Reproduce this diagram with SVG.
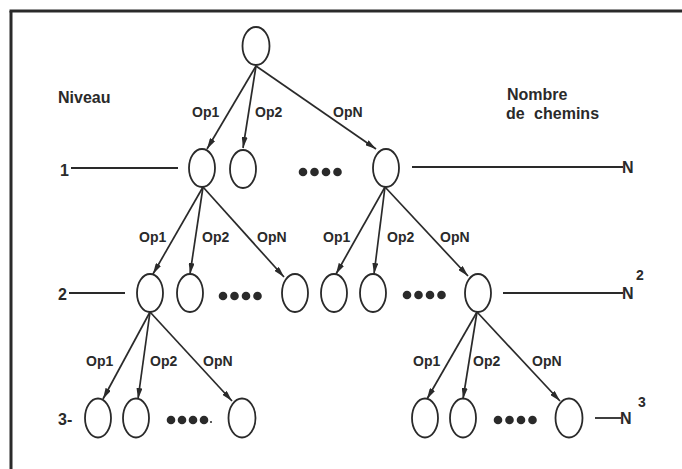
<svg xmlns="http://www.w3.org/2000/svg" width="682" height="469" viewBox="0 0 682 469">
<defs>
<style>
.n{fill:none;stroke:#2a2a2a;stroke-width:1.8}
.e{stroke:#2a2a2a;stroke-width:1.7;fill:none;marker-end:url(#ah)}
.l{stroke:#2a2a2a;stroke-width:1.8}
.t{font-family:"Liberation Sans",Arial,sans-serif;font-weight:bold;fill:#2a2a2a}
.op{font-size:14px}
.big{font-size:16px}
.sup{font-size:14px}
.d{fill:#2a2a2a}
</style>
<marker id="ah" viewBox="0 0 11 6" refX="11" refY="3" markerWidth="11" markerHeight="6" markerUnits="userSpaceOnUse" orient="auto">
<path d="M0,0 L11,3 L0,6 z" fill="#2a2a2a"/>
</marker>
</defs>
<rect width="682" height="469" fill="#ffffff"/>
<g id="frame">
<line x1="9.5" y1="11" x2="682" y2="11" stroke="#2a2a2a" stroke-width="3"/>
<line x1="11" y1="11" x2="11" y2="469" stroke="#2a2a2a" stroke-width="3"/>
</g>
<g id="titles" class="t big">
<text x="58" y="103">Niveau</text>
<text x="507" y="100">Nombre</text>
<text x="506" y="119" word-spacing="5">de chemins</text>
</g>
<g id="connectors">
<line class="e" x1="256" y1="66" x2="207" y2="149"/>
<line class="e" x1="256" y1="66" x2="243" y2="148"/>
<line class="e" x1="256" y1="66" x2="376" y2="149"/>
<line class="e" x1="203" y1="187" x2="153" y2="274"/>
<line class="e" x1="203" y1="187" x2="190" y2="274"/>
<line class="e" x1="203" y1="187" x2="284" y2="277"/>
<line class="e" x1="385" y1="187" x2="336" y2="274"/>
<line class="e" x1="385" y1="187" x2="374" y2="274"/>
<line class="e" x1="385" y1="187" x2="468" y2="276"/>
<line class="e" x1="150" y1="312" x2="103" y2="399"/>
<line class="e" x1="150" y1="312" x2="138" y2="399"/>
<line class="e" x1="150" y1="312" x2="232" y2="401"/>
<line class="e" x1="477" y1="312" x2="427" y2="399"/>
<line class="e" x1="477" y1="312" x2="463" y2="399"/>
<line class="e" x1="477" y1="312" x2="560" y2="401"/>
</g>
<g id="op-labels" class="t op">
<text x="192" y="117">Op1</text><text x="255" y="117">Op2</text><text x="333" y="117">OpN</text>
<text x="139" y="242">Op1</text><text x="202" y="242">Op2</text><text x="257" y="242">OpN</text>
<text x="323" y="242">Op1</text><text x="387" y="242">Op2</text><text x="440" y="242">OpN</text>
<text x="86" y="366">Op1</text><text x="150" y="366">Op2</text><text x="203" y="366">OpN</text>
<text x="413" y="366">Op1</text><text x="473" y="366">Op2</text><text x="532" y="366">OpN</text>
</g>
<g id="root"><ellipse class="n" cx="256" cy="46" rx="13.5" ry="19"/></g>
<g id="n1a"><ellipse class="n" cx="202" cy="168" rx="13" ry="19"/></g>
<g id="n1b"><ellipse class="n" cx="243" cy="169" rx="13" ry="19"/></g>
<g id="n1c"><ellipse class="n" cx="386" cy="168" rx="13" ry="19"/></g>
<g id="n2a"><ellipse class="n" cx="150" cy="293" rx="13" ry="19"/></g>
<g id="n2b"><ellipse class="n" cx="190" cy="293" rx="13" ry="19"/></g>
<g id="n2c"><ellipse class="n" cx="295" cy="293" rx="13" ry="19"/></g>
<g id="n2d"><ellipse class="n" cx="334" cy="293" rx="13" ry="19"/></g>
<g id="n2e"><ellipse class="n" cx="373" cy="293" rx="13" ry="19"/></g>
<g id="n2f"><ellipse class="n" cx="478" cy="293" rx="13" ry="19"/></g>
<g id="n3a"><ellipse class="n" cx="98" cy="418" rx="13" ry="19.5"/></g>
<g id="n3b"><ellipse class="n" cx="136" cy="418" rx="13" ry="19.5"/></g>
<g id="n3c"><ellipse class="n" cx="242" cy="418" rx="13.5" ry="19.5"/></g>
<g id="n3d"><ellipse class="n" cx="425" cy="418" rx="13" ry="19.5"/></g>
<g id="n3e"><ellipse class="n" cx="463" cy="418" rx="13" ry="19.5"/></g>
<g id="n3f"><ellipse class="n" cx="569" cy="418" rx="13.5" ry="19.5"/></g>
<g id="ellipsis-dots" class="d">
<circle cx="303" cy="172" r="4.3"/><circle cx="314.5" cy="172" r="4.3"/><circle cx="326" cy="172" r="4.3"/><circle cx="337.5" cy="172" r="4.3"/>
<circle cx="223" cy="296" r="4.3"/><circle cx="234.5" cy="296" r="4.3"/><circle cx="246" cy="296" r="4.3"/><circle cx="257.5" cy="296" r="4.3"/>
<circle cx="407" cy="295" r="4.3"/><circle cx="418.5" cy="295" r="4.3"/><circle cx="430" cy="295" r="4.3"/><circle cx="441.5" cy="295" r="4.3"/>
<circle cx="171" cy="420" r="4.3"/><circle cx="182" cy="420" r="4.3"/><circle cx="193" cy="420" r="4.3"/><circle cx="204" cy="420" r="4.3"/><circle cx="211" cy="422" r="1"/>
<circle cx="498" cy="420" r="4.3"/><circle cx="509.5" cy="420" r="4.3"/><circle cx="521" cy="420" r="4.3"/><circle cx="532.5" cy="420" r="4.3"/>
</g>
<g id="levels">
<text class="t big" x="60" y="176">1</text>
<line class="l" x1="71" y1="168" x2="178" y2="168"/>
<text class="t big" x="58" y="300">2</text>
<line class="l" x1="69" y1="293" x2="125" y2="293"/>
<text class="t big" x="58" y="425">3-</text>
</g>
<g id="paths-count">
<line class="l" x1="412" y1="167" x2="623" y2="167"/>
<text class="t big" x="622" y="173">N</text>
<line class="l" x1="503" y1="293" x2="623" y2="293"/>
<text class="t big" x="622" y="299">N</text>
<text class="t sup" x="636" y="280">2</text>
<line class="l" x1="595" y1="418" x2="621" y2="418"/>
<text class="t big" x="620" y="424">N</text>
<text class="t sup" x="638" y="407">3</text>
</g>
</svg>
